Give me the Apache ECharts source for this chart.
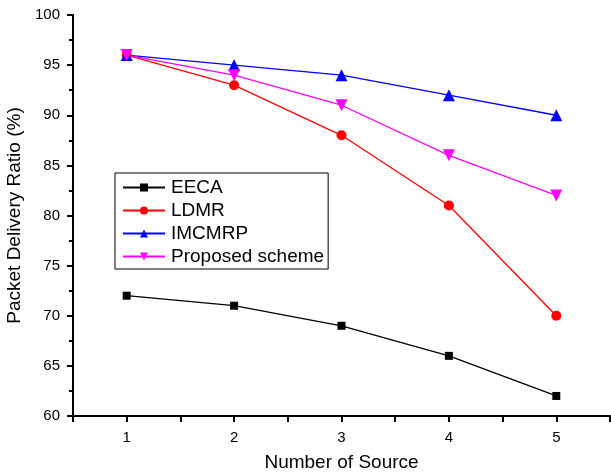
<!DOCTYPE html>
<html>
<head>
<meta charset="utf-8">
<script src="https://cdn.jsdelivr.net/npm/echarts@6/dist/echarts.min.js"></script>
<style>
  html, body { margin: 0; padding: 0; background: #fff; }
  #chart { width: 611px; height: 474px; }
</style>
</head>
<body>
<div id="chart"></div>
<script>
// Number of sources on the x axis
const sources = [1, 2, 3, 4, 5];
// Packet delivery ratio (%) per protocol
const eeca = [72, 71, 69, 66, 62];
const ldmr = [96, 93, 88, 81, 70];
const imcmrp = [96, 95, 94, 92, 90];
const proposed = [96, 94, 91, 86, 82];
// Tick labels
const xTicks = [1, 2, 3, 4, 5];
const yTicks = [60, 65, 70, 75, 80, 85, 90, 95, 100];

const font = 'Liberation Sans, Arial, Helvetica, sans-serif';

function pts(vals) {
  return sources.map((s, i) => [s, vals[i]]);
}

function makeSeries(name, vals, color, symbol, size, rotate) {
  return {
    name: name,
    type: 'line',
    data: pts(vals),
    symbol: symbol,
    symbolSize: size,
    symbolRotate: rotate || 0,
    lineStyle: { color: color, width: 1.3 },
    itemStyle: { color: color },
    emphasis: { disabled: true },
    animation: false
  };
}

const chart = echarts.init(document.getElementById('chart'), null, { renderer: 'canvas' });
chart.setOption({
  animation: false,
  grid: { left: 73, right: 1, top: 15, bottom: 58, outerBoundsMode: 'none', containLabel: false },
  legend: {
    orient: 'vertical',
    left: 115,
    top: 173,
    padding: [3, 4, 1, 7],
    itemGap: 0,
    itemWidth: 42,
    itemHeight: 10,
    borderColor: '#000',
    borderWidth: 1,
    textStyle: { fontFamily: font, fontSize: 19, color: '#000', lineHeight: 23, padding: [0, 0, 0, 1] },
    data: ['EECA', 'LDMR', 'IMCMRP', 'Proposed scheme']
  },
  xAxis: {
    type: 'value',
    min: 0.5,
    max: 5.5,
    interval: 0.5,
    name: 'Number of Source',
    nameLocation: 'middle',
    nameGap: 37,
    nameTextStyle: { fontFamily: font, fontSize: 19, color: '#000' },
    axisLine: { show: true, onZero: false, lineStyle: { color: '#000', width: 2 } },
    axisTick: {
      show: true, length: 6, lineStyle: { color: '#000', width: 2 },
      customValues: [0.5, 1, 1.5, 2, 2.5, 3, 3.5, 4, 4.5, 5, 5.5]
    },
    axisLabel: {
      fontFamily: font, fontSize: 15, color: '#000', margin: 14,
      customValues: xTicks,
      formatter: v => String(v)
    },
    splitLine: { show: false }
  },
  yAxis: {
    type: 'value',
    min: 60,
    max: 100,
    interval: 5,
    name: 'Packet Delivery Ratio (%)',
    nameLocation: 'middle',
    nameGap: 39,
    nameTextStyle: { fontFamily: font, fontSize: 19, color: '#000' },
    axisLine: { show: true, lineStyle: { color: '#000', width: 2 } },
    axisTick: { show: true, length: 6, lineStyle: { color: '#000', width: 2 } },
    minorTick: { show: true, splitNumber: 2, length: 4, lineStyle: { color: '#000', width: 2 } },
    axisLabel: {
      fontFamily: font, fontSize: 15, color: '#000', margin: 13,
      customValues: yTicks
    },
    splitLine: { show: false }
  },
  series: [
    makeSeries('EECA', eeca, '#000000', 'rect', 8),
    makeSeries('LDMR', ldmr, '#ff0000', 'circle', 10),
    makeSeries('IMCMRP', imcmrp, '#0000ff', 'triangle', 12),
    makeSeries('Proposed scheme', proposed, '#ff00ff', 'triangle', 12, 180)
  ]
});
</script>
</body>
</html>
